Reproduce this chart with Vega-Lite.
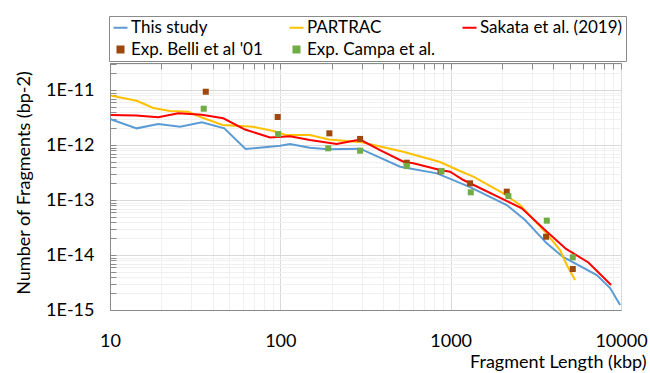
{
  "$schema": "https://vega.github.io/schema/vega-lite/v6.json",
  "width": 511,
  "height": 247,
  "autosize": {"type": "none"},
  "padding": {"left": 110, "top": 63, "right": 29, "bottom": 63},
  "background": "white",
  "datasets": {
    "curves": [
      {"s": "This study", "x": 10, "y": 2.97e-12},
      {"s": "This study", "x": 14.35, "y": 2.01e-12},
      {"s": "This study", "x": 19.2, "y": 2.41e-12},
      {"s": "This study", "x": 25.8, "y": 2.15e-12},
      {"s": "This study", "x": 34.6, "y": 2.59e-12},
      {"s": "This study", "x": 46.9, "y": 2.01e-12},
      {"s": "This study", "x": 62.5, "y": 8.46e-13},
      {"s": "This study", "x": 99.6, "y": 9.7e-13},
      {"s": "This study", "x": 114, "y": 1.04e-12},
      {"s": "This study", "x": 149, "y": 8.93e-13},
      {"s": "This study", "x": 190, "y": 8.36e-13},
      {"s": "This study", "x": 294, "y": 8.58e-13},
      {"s": "This study", "x": 505, "y": 4.03e-13},
      {"s": "This study", "x": 832, "y": 3.05e-13},
      {"s": "This study", "x": 1300, "y": 1.72e-13},
      {"s": "This study", "x": 2134, "y": 8.1e-14},
      {"s": "This study", "x": 2733, "y": 4.33e-14},
      {"s": "This study", "x": 3666, "y": 1.63e-14},
      {"s": "This study", "x": 4570, "y": 9.2e-15},
      {"s": "This study", "x": 7210, "y": 4.33e-15},
      {"s": "This study", "x": 8630, "y": 2.5e-15},
      {"s": "This study", "x": 9880, "y": 1.23e-15},
      {"s": "PARTRAC", "x": 10.2, "y": 7.88e-12},
      {"s": "PARTRAC", "x": 14.35, "y": 6.39e-12},
      {"s": "PARTRAC", "x": 17.96, "y": 4.71e-12},
      {"s": "PARTRAC", "x": 22.5, "y": 4.15e-12},
      {"s": "PARTRAC", "x": 28.8, "y": 4.03e-12},
      {"s": "PARTRAC", "x": 34.6, "y": 3.16e-12},
      {"s": "PARTRAC", "x": 45.8, "y": 2.31e-12},
      {"s": "PARTRAC", "x": 69.1, "y": 2.15e-12},
      {"s": "PARTRAC", "x": 91, "y": 1.8e-12},
      {"s": "PARTRAC", "x": 108, "y": 1.52e-12},
      {"s": "PARTRAC", "x": 149, "y": 1.52e-12},
      {"s": "PARTRAC", "x": 193, "y": 1.26e-12},
      {"s": "PARTRAC", "x": 300, "y": 1.12e-12},
      {"s": "PARTRAC", "x": 527, "y": 7.55e-13},
      {"s": "PARTRAC", "x": 867, "y": 4.91e-13},
      {"s": "PARTRAC", "x": 1161, "y": 3.27e-13},
      {"s": "PARTRAC", "x": 1359, "y": 2.66e-13},
      {"s": "PARTRAC", "x": 2038, "y": 1.32e-13},
      {"s": "PARTRAC", "x": 2553, "y": 8.1e-14},
      {"s": "PARTRAC", "x": 3580, "y": 2.65e-14},
      {"s": "PARTRAC", "x": 4387, "y": 1.23e-14},
      {"s": "PARTRAC", "x": 4805, "y": 6.58e-15},
      {"s": "PARTRAC", "x": 5375, "y": 3.51e-15},
      {"s": "Sakata et al. (2019)", "x": 10.1, "y": 3.51e-12},
      {"s": "Sakata et al. (2019)", "x": 14.2, "y": 3.44e-12},
      {"s": "Sakata et al. (2019)", "x": 19.2, "y": 3.2e-12},
      {"s": "Sakata et al. (2019)", "x": 25.2, "y": 3.77e-12},
      {"s": "Sakata et al. (2019)", "x": 34.6, "y": 3.56e-12},
      {"s": "Sakata et al. (2019)", "x": 46.3, "y": 3.06e-12},
      {"s": "Sakata et al. (2019)", "x": 62, "y": 1.91e-12},
      {"s": "Sakata et al. (2019)", "x": 87, "y": 1.37e-12},
      {"s": "Sakata et al. (2019)", "x": 114, "y": 1.44e-12},
      {"s": "Sakata et al. (2019)", "x": 149, "y": 1.23e-12},
      {"s": "Sakata et al. (2019)", "x": 214, "y": 1.04e-12},
      {"s": "Sakata et al. (2019)", "x": 294, "y": 1.26e-12},
      {"s": "Sakata et al. (2019)", "x": 385, "y": 8.1e-13},
      {"s": "Sakata et al. (2019)", "x": 528, "y": 4.97e-13},
      {"s": "Sakata et al. (2019)", "x": 604, "y": 4.65e-13},
      {"s": "Sakata et al. (2019)", "x": 867, "y": 3.51e-13},
      {"s": "Sakata et al. (2019)", "x": 992, "y": 3.27e-13},
      {"s": "Sakata et al. (2019)", "x": 1188, "y": 2.31e-13},
      {"s": "Sakata et al. (2019)", "x": 2233, "y": 8.93e-14},
      {"s": "Sakata et al. (2019)", "x": 2616, "y": 7.06e-14},
      {"s": "Sakata et al. (2019)", "x": 3633, "y": 2.73e-14},
      {"s": "Sakata et al. (2019)", "x": 4760, "y": 1.29e-14},
      {"s": "Sakata et al. (2019)", "x": 6437, "y": 7.31e-15},
      {"s": "Sakata et al. (2019)", "x": 8748, "y": 2.85e-15}
    ],
    "expts": [
      {"s": "Exp. Belli et al '01", "x": 36.5, "y": 9.31e-12},
      {"s": "Exp. Belli et al '01", "x": 96.5, "y": 3.23e-12},
      {"s": "Exp. Belli et al '01", "x": 194, "y": 1.63e-12},
      {"s": "Exp. Belli et al '01", "x": 294, "y": 1.29e-12},
      {"s": "Exp. Belli et al '01", "x": 552, "y": 4.77e-13},
      {"s": "Exp. Belli et al '01", "x": 872, "y": 3.32e-13},
      {"s": "Exp. Belli et al '01", "x": 1300, "y": 2.01e-13},
      {"s": "Exp. Belli et al '01", "x": 2135, "y": 1.42e-13},
      {"s": "Exp. Belli et al '01", "x": 3633, "y": 2.15e-14},
      {"s": "Exp. Belli et al '01", "x": 5212, "y": 5.56e-15},
      {"s": "Exp. Campa et al.", "x": 35.5, "y": 4.57e-12},
      {"s": "Exp. Campa et al.", "x": 97, "y": 1.58e-12},
      {"s": "Exp. Campa et al.", "x": 191, "y": 8.71e-13},
      {"s": "Exp. Campa et al.", "x": 294, "y": 7.88e-13},
      {"s": "Exp. Campa et al.", "x": 552, "y": 4.15e-13},
      {"s": "Exp. Campa et al.", "x": 884, "y": 3.36e-13},
      {"s": "Exp. Campa et al.", "x": 1312, "y": 1.38e-13},
      {"s": "Exp. Campa et al.", "x": 2182, "y": 1.18e-13},
      {"s": "Exp. Campa et al.", "x": 3667, "y": 4.21e-14},
      {"s": "Exp. Campa et al.", "x": 5212, "y": 9.08e-15}
    ]
  },
  "layer": [
    {
      "data": {"name": "curves"},
      "mark": {"type": "line", "strokeWidth": 2},
      "encoding": {
        "x": {
          "field": "x", "type": "quantitative",
          "scale": {"type": "log", "domain": [10, 10000], "nice": false},
          "axis": {
            "orient": "bottom",
            "title": "Fragment Length (kbp)",
            "titleX": 536, "titleY": 57, "titleAlign": "right", "titleBaseline": "alphabetic",
            "values": [10,20,30,40,50,60,70,80,90,100,200,300,400,500,600,700,800,900,1000,2000,3000,4000,5000,6000,7000,8000,9000,10000],
            "labelExpr": "abs(log(datum.value)/LN10 - round(log(datum.value)/LN10)) < 0.000001 ? format(datum.value, 'd') : ''",
            "labelOverlap": false, "labelFlush": false, "labelBound": false,
            "labelPadding": 22, "labelBaseline": "top",
            "ticks": false,
            "grid": true,
            "gridColor": {"condition": {"test": "abs(log(datum.value)/LN10 - round(log(datum.value)/LN10)) < 0.000001", "value": "#d9d9d9"}, "value": "#f0f0f0"}
          }
        },
        "y": {
          "field": "y", "type": "quantitative",
          "scale": {"type": "log", "domain": [1e-15, 3.1e-11], "nice": false},
          "axis": {
            "orient": "left",
            "title": "Number of Fragments (bp-2)",
            "titleX": -81, "titleY": 119.5, "titleAlign": "center", "titleBaseline": "alphabetic", "titleAngle": -90,
            "values": [1e-15,2e-15,3e-15,4e-15,5e-15,6e-15,7e-15,8e-15,9e-15,1e-14,2e-14,3e-14,4e-14,5e-14,6e-14,7e-14,8e-14,9e-14,1e-13,2e-13,3e-13,4e-13,5e-13,6e-13,7e-13,8e-13,9e-13,1e-12,2e-12,3e-12,4e-12,5e-12,6e-12,7e-12,8e-12,9e-12,1e-11,2e-11,3e-11],
            "labelExpr": "abs(log(datum.value)/LN10 - round(log(datum.value)/LN10)) < 0.000001 ? '1E' + round(log(datum.value)/LN10) : ''",
            "labelOverlap": false, "labelFlush": false, "labelBound": false,
            "labelPadding": 22,
            "ticks": true, "tickSize": -6,
            "grid": true,
            "gridColor": {"condition": {"test": "abs(log(datum.value)/LN10 - round(log(datum.value)/LN10)) < 0.000001", "value": "#d9d9d9"}, "value": "#f0f0f0"}
          }
        },
        "color": {
          "field": "s", "type": "nominal",
          "scale": {
            "domain": ["This study", "PARTRAC", "Sakata et al. (2019)", "Exp. Belli et al '01", "Exp. Campa et al."],
            "range": ["#5B9BD5", "#FFC000", "#FF0000", "#9E480E", "#70AD47"]
          },
          "legend": {
            "orient": "none", "legendX": -1, "legendY": -47,
            "direction": "horizontal", "columns": 3, "title": null,
            "strokeColor": "#8a8a8a", "fillColor": "white", "padding": 3,
            "labelFont": "Lato", "labelFontSize": 17, "labelColor": "#000", "labelLimit": 400,
            "symbolSize": 196, "symbolStrokeWidth": 2, "labelOffset": 2,
            "columnPadding": 22, "rowPadding": 4,
            "labelExpr": "datum.label == 'Sakata et al. (2019)' ? datum.label + '       ' : datum.label"
          }
        }
      }
    },
    {
      "data": {"name": "expts"},
      "mark": {"type": "point", "filled": true, "opacity": 1, "size": 196},
      "encoding": {
        "x": {
          "field": "x", "type": "quantitative",
          "axis": {
            "orient": "top", "title": null, "labels": false, "grid": false,
            "values": [10,20,30,40,50,60,70,80,90,100,200,300,400,500,600,700,800,900,1000,2000,3000,4000,5000,6000,7000,8000,9000,10000],
            "ticks": true, "tickSize": -6
          }
        },
        "y": {"field": "y", "type": "quantitative"},
        "color": {"field": "s", "type": "nominal"},
        "shape": {
          "field": "s", "type": "nominal",
          "scale": {
            "domain": ["This study", "PARTRAC", "Sakata et al. (2019)", "Exp. Belli et al '01", "Exp. Campa et al."],
            "range": ["M-1,0H1", "M-1,0H1", "M-1,0H1", "M-0.43,-0.43H0.43V0.43H-0.43Z", "M-0.43,-0.43H0.43V0.43H-0.43Z"]
          }
        }
      }
    }
  ],
  "resolve": {"axis": {"x": "independent"}},
  "config": {
    "font": "Lato",
    "view": {"stroke": "#8a8a8a", "strokeWidth": 1},
    "axis": {
      "labelFont": "Lato", "labelFontSize": 18, "labelColor": "#000",
      "titleFont": "Lato", "titleFontSize": 18, "titleFontWeight": "normal", "titleColor": "#000",
      "domainColor": "#8a8a8a", "tickColor": "#8a8a8a"
    }
  }
}
